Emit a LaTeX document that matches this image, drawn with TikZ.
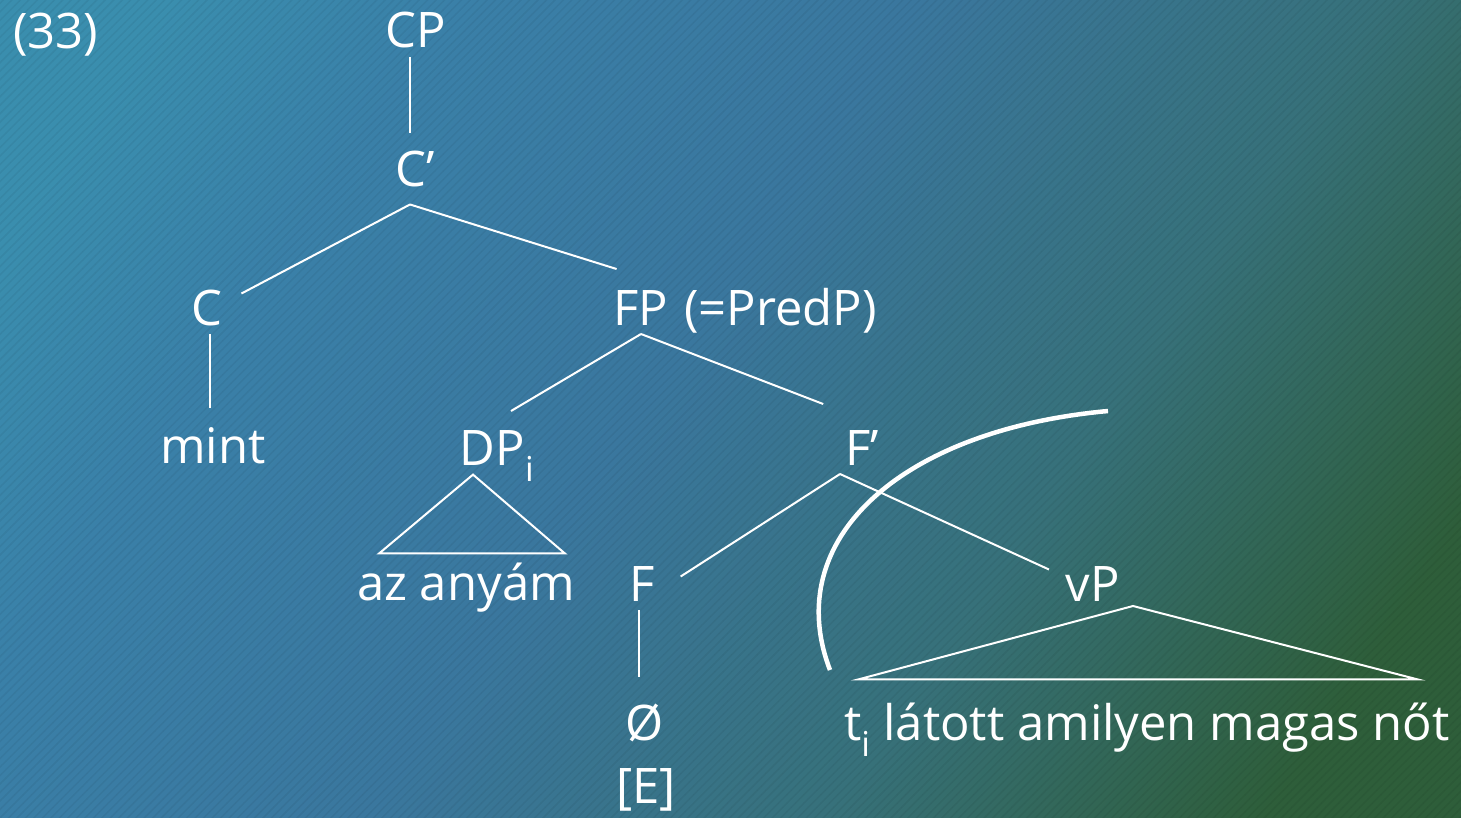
\documentclass[tikz,border=0pt]{standalone}
\usepackage{fontspec}
\usetikzlibrary{patterns.meta}
\setmainfont{Open Sans}
\definecolor{bgtl}{HTML}{3A8EAE}
\definecolor{bgl}{HTML}{3A80A8}
\definecolor{bgmid}{HTML}{3A779E}
\definecolor{bgteal}{HTML}{37717A}
\definecolor{bgbr}{HTML}{2E5E3A}
\pgfdeclarehorizontalshading{bgshade}{100bp}{color(0bp)=(bgtl); color(21bp)=(bgtl); color(31bp)=(bgl); color(47bp)=(bgmid); color(63bp)=(bgteal); color(78bp)=(bgbr); color(100bp)=(bgbr)}
\begin{document}
\begin{tikzpicture}[x=1pt, y=-1pt, line width=2pt, draw=white,
  every node/.style={font=\fontsize{49}{58}\selectfont, text=white, anchor=base, inner sep=4pt, outer sep=5pt}]
  % background
  \shade[shading=bgshade, shading angle=-34] (0,0) rectangle (1461,818);
  \fill[pattern={Lines[angle=45, distance=6pt, line width=1.5pt]}, pattern color=black, opacity=0.05] (0,0) rectangle (1461,818);
  \useasboundingbox (0,0) rectangle (1461,818);
  % example number
  \node (ex) [anchor=base west, inner sep=0pt, outer sep=0pt] at (13,49) {(33)};
  % tree nodes
  \node (cp)   at (416,48)  {CP};
  \node (cbar) at (415,187) {C’};
  \node (c)    at (207,325) {C};
  \node (fp)   at (641,325) {FP};
  \node (pred) [anchor=base west] at ([xshift=-2pt]fp.base east) {(=PredP)};
  \node (mint) at (213,463) {mint};
  \node (dp)   at (497,465) {DP\textsubscript{i}};
  \node (fbar) at (862,465) {F’};
  \node (az)   at (466,600) {az anyám};
  \node (f)    at (642,601) {F};
  \node (vp)   at (1093,601) {vP};
  \node (null) at (645,740) {Ø};
  \node (e)    at (646,803) {[E]};
  \node (ti)   at (1147,740) {t\textsubscript{i} látott amilyen magas nőt};
  % branching points
  \coordinate (cbarb) at ([xshift=-5pt,yshift=-8pt]cbar.south);
  \coordinate (fbarb) at ([xshift=-22pt]fbar.south);
  % branches
  \draw ([xshift=-6pt]cp.south) -- ([xshift=-5pt,yshift=10pt]cbar.north);
  \draw (cbarb) -- ([xshift=10pt,yshift=-13pt]c.north east);
  \draw (cbarb) -- ([xshift=12pt,yshift=12pt]fp.north west);
  \draw ([xshift=3pt]c.south) -- ([xshift=3pt,yshift=10pt]c.south |- mint.north);
  \draw (fp.south) -- ([xshift=14pt,yshift=10pt]dp.north);
  \draw (fp.south) -- ([xshift=-13pt,yshift=17pt]fbar.north west);
  \draw (fbarb) -- ([xshift=17pt,yshift=7pt]f.east);
  \draw (fbarb) -- ([xshift=-8pt,yshift=14pt]vp.west);
  \draw ([xshift=-3pt]f.south) -- ([xshift=-3pt,yshift=17pt]f.south |- null.north);
  % triangles
  \draw ([xshift=-24pt,yshift=16pt]dp.south) -- ([xshift=31pt]az.north west) -- ([xshift=-19pt]az.north east) -- cycle;
  \draw ([xshift=40pt,yshift=4pt]vp.south) -- ([xshift=23pt,yshift=14pt]ti.north west) -- ([xshift=-41pt,yshift=14pt]ti.north east) -- cycle;
  % ellipsis boundary
  \coordinate (arcA) at (1108,411);
  \coordinate (arcB) at (830,670);
  \draw[line width=4.5pt] (arcA) .. controls (900,430) and (780,540) .. (arcB);
\end{tikzpicture}
\end{document}
